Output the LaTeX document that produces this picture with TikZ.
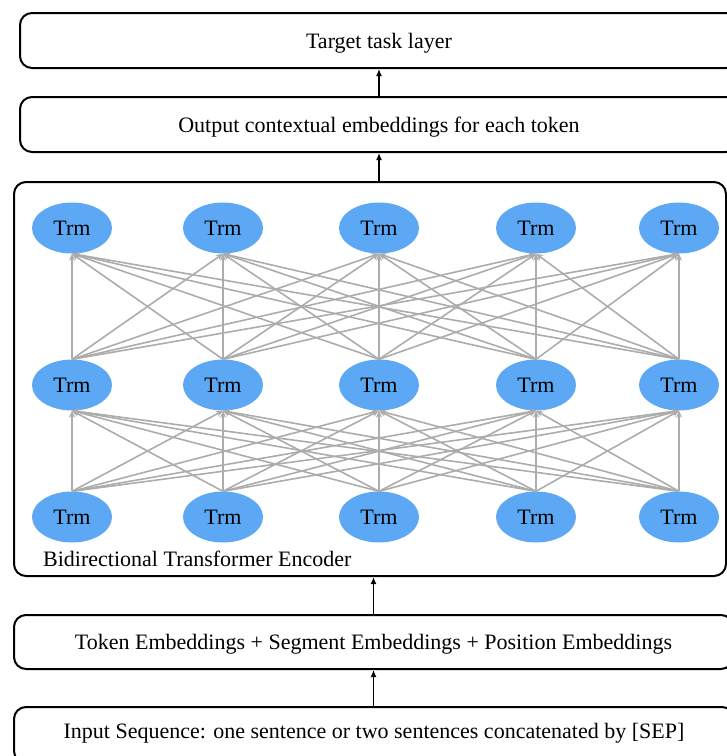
\documentclass[tikz,border=0pt]{standalone}
\usepackage{fontspec}
\setmainfont{Liberation Serif}
\newfontfamily\diagfont{Liberation Serif}
\usetikzlibrary{arrows.meta,shapes.geometric}
\definecolor{trmblue}{RGB}{92,168,245}
\definecolor{linkgray}{RGB}{172,172,172}
% moves the text down inside its box without changing the box size
\newcommand{\lowered}[1]{\raisebox{-2.5pt}[\height][\depth]{#1}}
\begin{document}
\begin{tikzpicture}[x=1pt,y=-1pt,
  every node/.style={font=\diagfont\fontsize{22}{26}\selectfont},
  layerbox/.style={draw=black, line width=2pt, rounded corners=12pt, inner sep=0pt},
  trm/.style={ellipse, fill=trmblue, minimum width=80pt, minimum height=51pt, inner sep=0pt},
  link/.style={draw=linkgray, line width=1.6pt, -{Stealth[length=7pt,width=6pt]}},
  flow/.style={draw=black, line width=1.8pt, -{Latex[length=7pt,width=6pt]}}
]
\useasboundingbox (0,0) rectangle (727,756);
\clip (0,0) rectangle (727,756);

% stacked layers
\node[layerbox, minimum width=718pt, minimum height=55pt] (task) at (379,40.5) {\lowered{Target task layer}};
\node[layerbox, minimum width=718pt, minimum height=55pt] (output) at (379,124.5) {\lowered{Output contextual embeddings for each token}};
\node[layerbox, minimum width=712pt, minimum height=394pt] (encoder) at (370,379) {};
\node[layerbox, minimum width=719pt, minimum height=54pt] (embed) at (373.5,642) {\lowered{Token Embeddings + Segment Embeddings + Position Embeddings}};
\node[layerbox, minimum width=720pt, minimum height=56pt] (input) at (374,735) {};
\node[inner sep=0pt] (inputtext) at (374,733) {Input Sequence: one sentence or two sentences concatenated by [SEP]};
\node[inner sep=0pt, anchor=west] (enclabel) at (43,559) {Bidirectional Transformer Encoder};

% transformer blocks
\foreach \i/\x in {1/72,2/223,3/379,4/536,5/679} {
  \node[trm] (t\i) at (\x,228) {Trm};
  \node[trm] (m\i) at (\x,385) {Trm};
  \node[trm] (b\i) at (\x,517) {Trm};
}

% full connections between blocks
\foreach \i in {1,...,5} {
  \foreach \j in {1,...,5} {
    \draw[link] (b\i.north) -- (m\j.south);
    \draw[link] (m\i.north) -- (t\j.south);
  }
}

% flow between layers
\draw[flow] (input.north -| embed.north) -- (embed.south);
\draw[flow] (embed.north) -- (embed.north |- encoder.south);
\draw[flow] (output.south |- encoder.north) -- (output.south);
\draw[flow] (output.north) -- (task.south);
\end{tikzpicture}
\end{document}
